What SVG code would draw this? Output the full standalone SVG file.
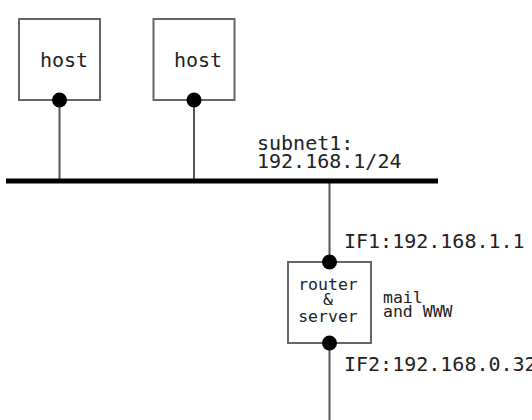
<svg xmlns="http://www.w3.org/2000/svg" width="532" height="420" viewBox="0 0 532 420">
<style>
.box{fill:#fff;stroke:#666;stroke-width:2}
.wire{stroke:#555;stroke-width:2;fill:none}
.bus{stroke:#000;stroke-width:5}
.dot{fill:#000}
.big{font-family:"DejaVu Sans Mono","Liberation Mono",monospace;font-size:20px;fill:#222}
.small{font-family:"DejaVu Sans Mono","Liberation Mono",monospace;font-size:16.5px;fill:#222}
</style>
<rect width="532" height="420" fill="#fff"/>
<g id="connectors">
<line class="wire" x1="59.5" y1="100" x2="59.5" y2="181"/>
<line class="wire" x1="194" y1="100" x2="194" y2="181"/>
<line class="wire" x1="329.5" y1="181" x2="329.5" y2="262"/>
<line class="wire" x1="329.5" y1="343" x2="329.5" y2="420"/>
</g>
<g id="subnet1">
<line class="bus" x1="6" y1="181" x2="438" y2="181"/>
<text class="big" x="257" y="150">subnet1:</text>
<text class="big" x="257" y="168">192.168.1/24</text>
</g>
<g id="host1">
<rect class="box" x="19" y="19" width="81" height="81"/>
<text class="big" x="40" y="67">host</text>
<circle class="dot" cx="59.5" cy="100" r="7.5"/>
</g>
<g id="host2">
<rect class="box" x="153.5" y="19" width="81" height="81"/>
<text class="big" x="174" y="67">host</text>
<circle class="dot" cx="194" cy="100" r="7.5"/>
</g>
<g id="router">
<rect class="box" x="288" y="262" width="83" height="81"/>
<text class="small" x="328" y="290" text-anchor="middle">router</text>
<text class="small" x="328" y="305" text-anchor="middle">&amp;</text>
<text class="small" x="328" y="322" text-anchor="middle">server</text>
<circle class="dot" cx="329.5" cy="262" r="7.5"/>
<circle class="dot" cx="329.5" cy="343" r="7.5"/>
<text class="small" x="383" y="303">mail</text>
<text class="small" x="383" y="317">and WWW</text>
<text class="big" x="344" y="248">IF1:192.168.1.1</text>
<text class="big" x="344" y="371">IF2:192.168.0.32</text>
</g>
</svg>
